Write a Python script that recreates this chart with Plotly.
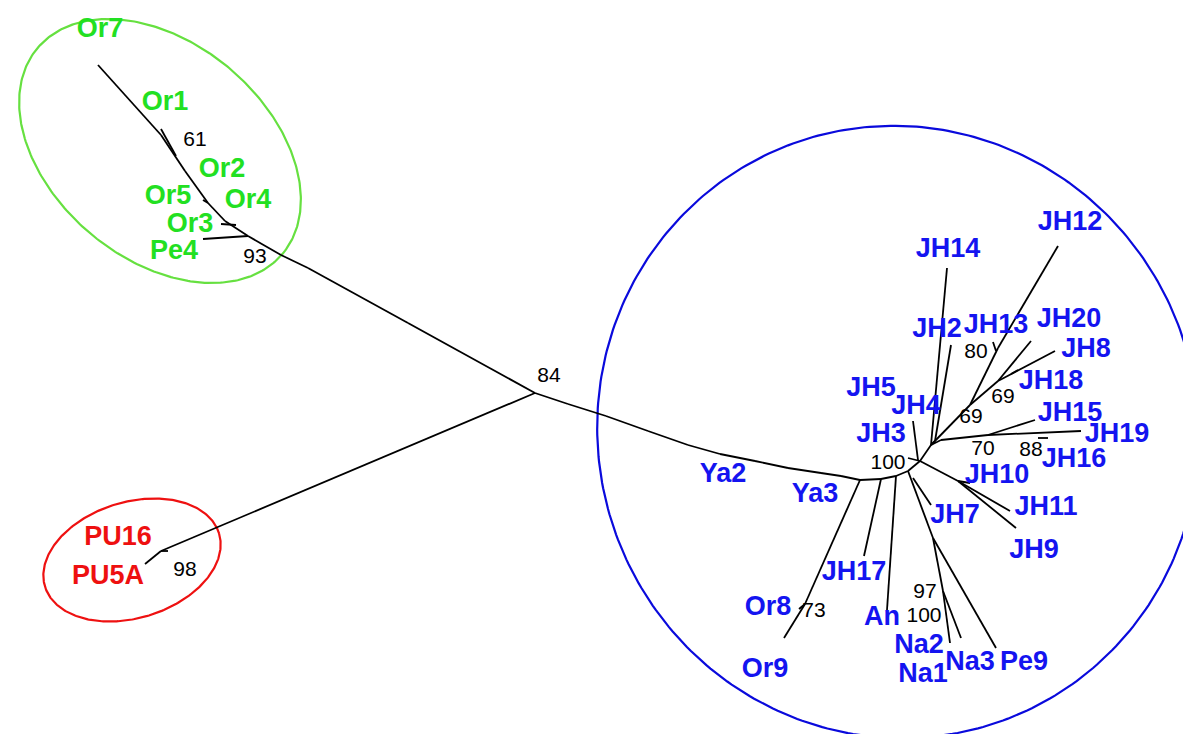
import numpy as np
import plotly.graph_objects as go

# ---- tree layout data (layout units, y grows downward) ----
node_names = [
    "root",
    # green clade backbone
    "g1", "g2", "g3", "g93", "g4", "g5", "g6", "g61", "Or7",
    "Or1a", "Or1b", "Or5a", "Or5b", "Or3a", "Or3b", "Pe4",
    # red clade
    "r98", "PU", "PUt",
    # blue clade backbone
    "b0", "b1", "b1b", "b2", "b2b", "b3", "b3b", "b4", "b4b", "bYa", "b17", "bAn", "bNa", "b100",
    "b73", "Or8", "Or9", "JH17", "An",
    "nNaPe", "n97", "Na2", "Na3", "Pe9", "JH7a", "JH7",
    "n10", "JH10", "JH11", "JH9",
    "JH4a", "JH4", "JH3a",
    "hub", "JH14", "hub2", "JH2",
    "n69a", "n80", "JH12", "JH13a", "JH13",
    "n69b", "JH20", "JH8", "JH18a", "JH18",
    "hub3", "n70", "JH15", "JH19", "JH16a", "JH16",
]
node_x = [
    527,
    400, 300, 273, 240, 217, 200, 177, 153, 90,
    168, 153, 195, 200, 213, 228, 195,
    153, 137, 160,
    560, 598, 640, 680, 712, 747, 780, 813, 833, 852, 873, 888, 900, 912,
    797, 791, 776, 856, 879,
    925, 935, 942, 953, 988, 905, 923,
    950, 962, 1002, 1008,
    910, 905, 900,
    923, 939, 927, 943,
    962, 990, 1050, 985, 988,
    990, 1023, 1047, 1003, 1010,
    933, 980, 1027, 1073, 1030, 1040,
]
node_y = [
    385,
    315, 260, 247, 228, 213, 195, 163, 127, 57,
    148, 121, 192, 195, 216, 217, 231,
    543, 556, 543,
    396, 408, 423, 437, 446, 453, 460, 465, 468, 472, 471, 468, 463, 453,
    596, 601, 630, 548, 602,
    530, 583, 635, 630, 640, 470, 497,
    473, 475, 503, 520,
    452, 413, 450,
    437, 260, 433, 337,
    397, 340, 238, 334, 343,
    373, 333, 343, 366, 362,
    432, 427, 412, 423, 430, 430,
]
edges = [
    ("root", "g1"), ("g1", "g2"), ("g2", "g3"), ("g3", "g93"), ("g93", "g4"),
    ("g4", "g5"), ("g5", "g6"), ("g6", "g61"), ("g61", "Or7"),
    ("Or1a", "Or1b"), ("Or5a", "Or5b"), ("Or3a", "Or3b"), ("g93", "Pe4"),
    ("root", "r98"), ("r98", "PU"), ("r98", "PUt"),
    ("root", "b0"), ("b0", "b1"), ("b1", "b1b"), ("b1b", "b2"), ("b2", "b2b"),
    ("b2b", "b3"), ("b3", "b3b"), ("b3b", "b4"), ("b4", "b4b"), ("b4b", "bYa"),
    ("bYa", "b17"), ("b17", "bAn"), ("bAn", "bNa"), ("bNa", "b100"),
    ("bYa", "b73"), ("b73", "Or8"), ("b73", "Or9"),
    ("b17", "JH17"), ("bAn", "An"),
    ("bNa", "nNaPe"), ("nNaPe", "n97"), ("n97", "Na2"), ("n97", "Na3"), ("nNaPe", "Pe9"),
    ("JH7a", "JH7"),
    ("b100", "n10"), ("n10", "JH10"), ("n10", "JH11"), ("n10", "JH9"),
    ("JH4a", "JH4"), ("JH3a", "b100"),
    ("b100", "hub"), ("hub", "JH14"), ("hub", "hub2"), ("hub2", "JH2"),
    ("hub", "n69a"), ("n69a", "n80"), ("n80", "JH12"), ("JH13a", "JH13"),
    ("n69a", "n69b"), ("n69b", "JH20"), ("n69b", "JH8"), ("JH18a", "JH18"),
    ("hub", "hub3"), ("hub3", "n70"), ("n70", "JH15"), ("n70", "JH19"), ("JH16a", "JH16"),
]

# leaf labels
green_labels = ["Or7", "Or1", "Or2", "Or5", "Or4", "Or3", "Pe4"]
green_lx = [92, 157, 214, 160, 240, 182, 166]
green_ly = [22, 95, 162, 189, 193, 217, 244]

red_labels = ["PU16", "PU5A"]
red_lx = [110, 100]
red_ly = [530, 569]

blue_labels = ["JH14", "JH12", "JH2", "JH13", "JH20", "JH8", "JH18", "JH15", "JH19",
               "JH16", "JH5", "JH4", "JH3", "JH10", "JH11", "JH9", "JH7", "JH17",
               "Ya2", "Ya3", "Or8", "Or9", "An", "Na2", "Na1", "Na3", "Pe9"]
blue_lx = [940, 1062, 929, 988, 1061, 1078, 1043, 1062, 1109,
           1066, 863, 908, 873, 989, 1038, 1026, 947, 846,
           715, 807, 760, 757, 874, 911, 915, 962, 1016]
blue_ly = [242, 215, 322, 318, 312, 342, 374, 406, 427,
           452, 381, 399, 427, 468, 500, 543, 508, 565,
           467, 487, 600, 662, 610, 638, 667, 655, 655]

# bootstrap values
boot_labels = ["84", "61", "93", "98", "80", "69", "69", "70", "88", "100", "73", "97", "100"]
boot_x = [541, 187, 247, 177, 968, 995, 963, 975, 1023, 880, 806, 917, 916]
boot_y = [369, 133, 250, 563, 345, 390, 410, 442, 443, 456, 604, 585, 609]

# group outlines: centre x, centre y, semi-axis a, semi-axis b, tilt (deg)
ell_cx = [152, 124, 890]
ell_cy = [143, 552, 424]
ell_a = [160, 91, 300]
ell_b = [108, 58, 307]
ell_tilt = [40, -17, -20]
ell_colors = ["#66e040", "#ee1111", "#0a0adc"]

GREEN = "#22e022"
RED = "#ee1010"
BLUE = "#1414f0"
LABEL_FONT = "Liberation Sans, sans-serif"
NUM_FONT = "Liberation Sans, sans-serif"

fig = go.Figure()

# ellipses
t = np.linspace(0, 2 * np.pi, 361)
for cx, cy, a, b, tilt, col in zip(ell_cx, ell_cy, ell_a, ell_b, ell_tilt, ell_colors):
    th = np.radians(tilt)
    ex = cx + a * np.cos(t) * np.cos(th) - b * np.sin(t) * np.sin(th)
    ey = cy + a * np.cos(t) * np.sin(th) + b * np.sin(t) * np.cos(th)
    fig.add_trace(go.Scatter(x=ex, y=ey, mode="lines",
                             line=dict(color=col, width=2.2), hoverinfo="skip"))

# branches
idx = {n: i for i, n in enumerate(node_names)}
lx, ly = [], []
for a, b in edges:
    lx += [node_x[idx[a]], node_x[idx[b]], None]
    ly += [node_y[idx[a]], node_y[idx[b]], None]
fig.add_trace(go.Scatter(x=lx, y=ly, mode="lines",
                         line=dict(color="black", width=1.8), hoverinfo="skip"))

for labs, xs, ys, col in [(green_labels, green_lx, green_ly, GREEN),
                          (red_labels, red_lx, red_ly, RED),
                          (blue_labels, blue_lx, blue_ly, BLUE)]:
    fig.add_trace(go.Scatter(x=xs, y=ys, mode="text", text=labs,
                             textposition="middle center",
                             textfont=dict(family=LABEL_FONT, size=27, color=col,
                                           weight="bold"),
                             hoverinfo="skip"))

fig.add_trace(go.Scatter(x=boot_x, y=boot_y, mode="text", text=boot_labels,
                         textposition="middle center",
                         textfont=dict(family=NUM_FONT, size=21, color="black"),
                         hoverinfo="skip"))

fig.update_layout(
    width=1191, height=734,
    margin=dict(l=0, r=0, t=0, b=0),
    paper_bgcolor="white", plot_bgcolor="white",
    showlegend=False,
    xaxis=dict(range=[0, 1191], visible=False, fixedrange=True),
    yaxis=dict(range=[734, 0], visible=False, fixedrange=True),
)

fig.write_html("out.html")
